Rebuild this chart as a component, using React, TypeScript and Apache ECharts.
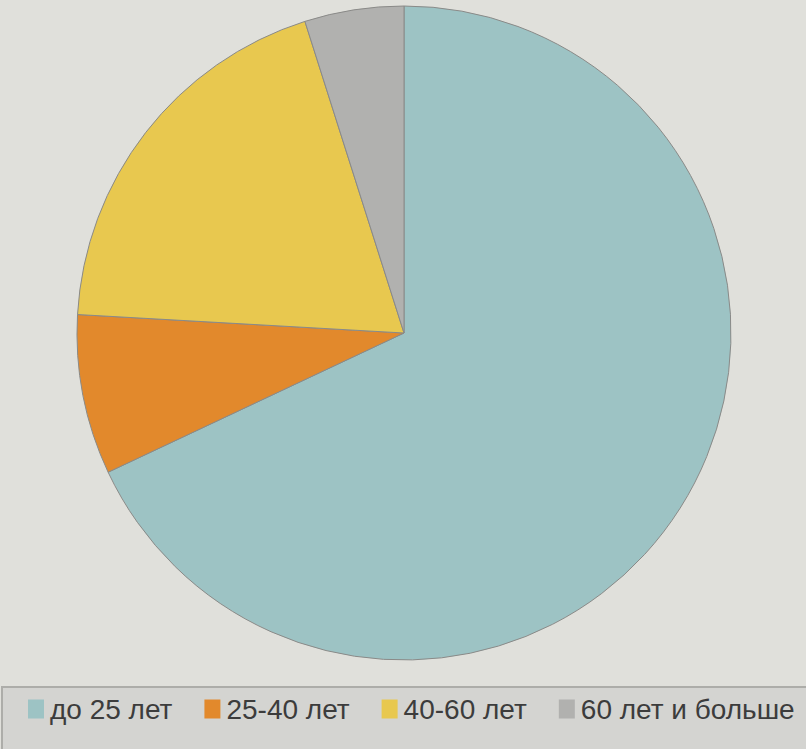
import React, { useEffect, useRef } from "react";
import * as echarts from "echarts";

const categories = ["до 25 лет", "25-40 лет", "40-60 лет", "60 лет и больше"];
const values = [68, 7.9, 19.2, 4.9];
const colors = ["#9dc3c4", "#e2892c", "#e8c84f", "#b1b1af"];

export default function App() {
  const ref = useRef<HTMLDivElement>(null);
  useEffect(() => {
    if (!ref.current) return;
    const chart = echarts.init(ref.current, undefined, { renderer: "svg" });
    chart.setOption({
      animation: false,
      backgroundColor: "#e0e0db",
      color: colors,
      graphic: [
        {
          type: "rect",
          shape: { x: 2, y: 687, width: 820, height: 80 },
          style: { fill: "#d4d4d1", stroke: "#adada9", lineWidth: 2 },
          z: -1,
        },
      ],
      legend: {
        left: 23,
        top: 690,
        width: 900,
        itemWidth: 16,
        itemHeight: 19,
        itemGap: 32,
        icon: "rect",
        itemStyle: { borderWidth: 0 },
        textStyle: {
          fontSize: 28,
          color: "#3c3c3c",
          fontFamily: "Liberation Sans, sans-serif",
          padding: [0, 0, 0, 1],
        },
        data: categories,
      },
      series: [
        {
          type: "pie",
          center: [404, 333],
          radius: 327,
          startAngle: 90,
          clockwise: true,
          label: { show: false },
          labelLine: { show: false },
          itemStyle: { borderColor: "#8a8a88", borderWidth: 1 },
          emphasis: { disabled: true },
          data: categories.map((name, i) => ({ name, value: values[i] })),
        },
      ],
    });
    return () => chart.dispose();
  }, []);
  return (
    <div
      ref={ref}
      style={{ position: "fixed", left: 0, top: 0, width: 806, height: 749 }}
    />
  );
}
